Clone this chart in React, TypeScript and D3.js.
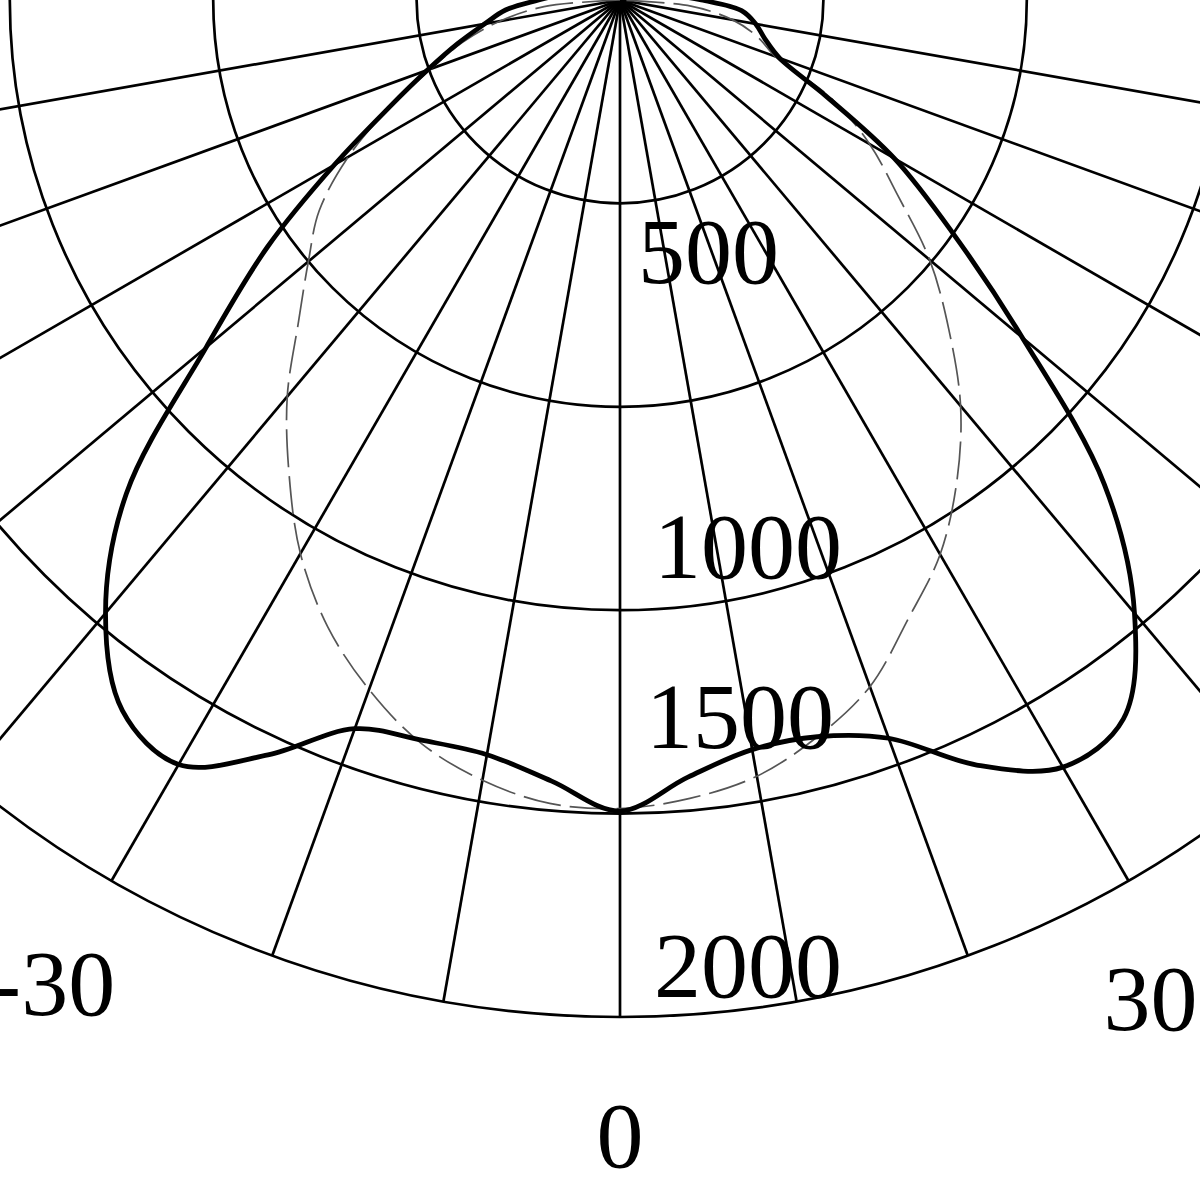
import * as d3 from "d3";

// polar grid
const ringValues = [400, 800, 1200, 1600, 2000];
const spokeAngles = [-80, -70, -60, -50, -40, -30, -20, -10, 0, 10, 20, 30, 40, 50, 60, 70, 80];
const radialTickValues = [500, 1000, 1500, 2000];
const angleTickValues = [-90, -60, -30, 0, 30, 60, 90];

// measured luminous intensity (thick curve), angle in degrees from nadir
const measuredAngles = [
  -100, -95, -90, -85, -80, -75, -70, -65, -60, -55, -50, -45, -40, -35, -30, -25, -20, -15, -10, -5,
  0, 5, 10, 15, 20, 25, 30, 35, 40, 45, 50, 55, 60, 65, 70, 75, 80, 85, 90, 95, 100,
];
const measuredValues = [
  100, 120, 160, 226, 270, 330, 403, 502, 649, 846, 1062, 1373, 1574, 1706, 1736, 1638, 1525, 1507, 1507, 1542,
  1595, 1534, 1497, 1500, 1545, 1660, 1742, 1726, 1574, 1347, 1033, 799, 623, 447, 334, 295, 271, 240, 160, 110, 90,
];

// reference distribution (dashed curve)
const referenceAngles = [
  -90, -85, -80, -75, -70, -65, -60, -55, -50, -45, -40, -35, -30, -25, -20, -15, -10, -5,
  0, 5, 10, 15, 20, 25, 30, 35, 40, 45, 50, 55, 60, 65, 70, 75, 80, 85, 90,
];
const referenceValues = [
  0, 150, 240, 320, 395, 500, 617, 722, 800, 894, 1018, 1135, 1257, 1360, 1443, 1513, 1558, 1586,
  1590, 1576, 1550, 1500, 1437, 1342, 1259, 1155, 1042, 914, 795, 665, 567, 460, 325, 280, 225, 140, 0,
];

const WIDTH = 1200;
const HEIGHT = 1200;
const cx = 620;
const cy = 0;
const outerR = 1017;

const toRad = (deg: number) => (deg * Math.PI) / 180;
// 0 deg points down, positive angles to the right
const polar = (deg: number, r: number): [number, number] => [
  r * Math.sin(toRad(deg)),
  r * Math.cos(toRad(deg)),
];

export default function App() {
  const rScale = d3.scaleLinear().domain([0, 2000]).range([0, outerR]);

  const radial = d3
    .lineRadial<[number, number]>()
    .angle((d) => Math.PI - toRad(d[0]))
    .radius((d) => rScale(d[1]))
    .curve(d3.curveCatmullRom.alpha(0.5));

  const measuredPath = radial(measuredAngles.map((a, i) => [a, measuredValues[i]])) ?? "";
  const referencePath = radial(referenceAngles.map((a, i) => [a, referenceValues[i]])) ?? "";

  const font = "'Liberation Serif', 'DejaVu Serif', serif";

  // the source sets its radial labels slightly off their rings
  const radialNudge: Record<number, [number, number]> = {
    500: [18, 29],
    1000: [34, 69],
    1500: [26, -15],
    2000: [34, -20],
  };
  const angleNudge: Record<number, [number, number]> = { 30: [-37, 15] };
  const angleLabelR = rScale(2000) + 118;

  return (
    <svg
      width={WIDTH}
      height={HEIGHT}
      style={{ position: "absolute", left: 0, top: 0, background: "#fff" }}
    >
      <rect width={WIDTH} height={HEIGHT} fill="#fff" />
      <g transform={`translate(${cx},${cy})`}>
        {ringValues.map((v) => (
          <circle key={v} r={rScale(v)} fill="none" stroke="#000" strokeWidth={2.7} />
        ))}
        {spokeAngles.map((a) => {
          const [x, y] = polar(a, rScale(2000));
          return <line key={a} x1={0} y1={0} x2={x} y2={y} stroke="#000" strokeWidth={2.7} />;
        })}
        <path
          d={referencePath}
          fill="none"
          stroke="#555"
          strokeWidth={1.7}
          strokeDasharray="38 9"
        />
        <path
          d={measuredPath}
          fill="none"
          stroke="#000"
          strokeWidth={4.8}
          strokeLinejoin="round"
        />
        {radialTickValues.map((v) => {
          const [dx, dy] = radialNudge[v];
          return (
            <text key={v} x={dx} y={rScale(v) + dy} fontFamily={font} fontSize={94} fill="#000">
              {v}
            </text>
          );
        })}
        {angleTickValues.map((a) => {
          const [x, y] = polar(a, angleLabelR);
          const [dx, dy] = angleNudge[a] ?? [0, 0];
          return (
            <text
              key={a}
              x={x + dx}
              y={y + dy}
              dy="0.34em"
              textAnchor="middle"
              fontFamily={font}
              fontSize={94}
              fill="#000"
            >
              {a}
            </text>
          );
        })}
      </g>
    </svg>
  );
}
